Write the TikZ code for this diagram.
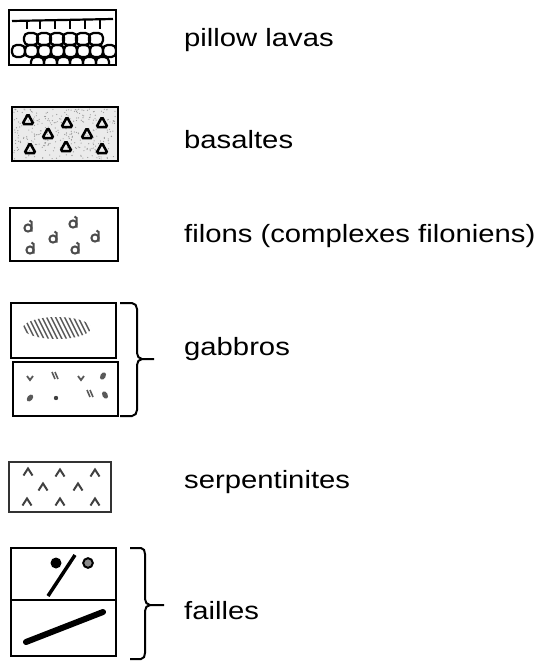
\documentclass[tikz,border=0pt]{standalone}
\usepackage{fontspec}
\setmainfont{Liberation Sans}[FakeStretch=1.17]

\begin{document}
\begin{tikzpicture}[x=1pt,y=-1pt,
	legbox/.style={draw,line width=2.4pt},
	thinbox/.style={draw,line width=1.6pt,black!80},
	legtext/.style={anchor=base west,inner sep=0pt,font=\fontsize{25}{30}\selectfont},
	bracket/.style={line width=2pt},
	pillow/.style={line width=2.2pt,rounded corners=4.5pt}]
	
	\useasboundingbox (0,0) rectangle (539,661);
	
	%pillow lavas
	\begin{scope}
	\clip (10,11) rectangle (115,64);
	\draw[line width=2.2pt] (12,21) -- (113,19);
	\foreach \x in {27,40,55,70,85,100} \draw[line width=2.2pt] (\x,20) -- (\x,29);
	\foreach \x in {24,37,50,63,76,89} \draw[pillow] (\x,45) rectangle ++(14,-12);
	\foreach \x in {12,25,38,51,64,77,90,103} \draw[pillow] (\x,57) rectangle ++(13,-12);
	\foreach \x in {31,44,57,70,83,96} \draw[pillow] (\x,69) rectangle ++(13,-12);
	\end{scope}
	\draw[legbox,line width=2.8pt] (9,10) rectangle (116,65);
	
	%basaltes
	\fill[black!8] (12,107) rectangle (118,161);
	\pgfmathsetseed{11}
	\foreach \i in {1,...,320}{
		\pgfmathsetmacro\dx{14+rnd*102}
		\pgfmathsetmacro\dy{109+rnd*50}
		\fill[black!40] (\dx,\dy) circle (0.6);}
	\foreach \x/\y in {28/119,67/122,102/122,48/133,87/133,30/148,66/146,102/148}
		\draw[line width=2.5pt,rounded corners=1.5pt] (\x,\y-5) -- ++(5.5,10) -- ++(-11,0) -- cycle;
	\draw[legbox] (12,107) rectangle (118,161);
	
	%filons
	\foreach \x/\y in {28/228,73/224,53/239,95/238,30/250,75/250}{
		\draw[line width=2pt,black!70] (\x,\y) circle (3.6);
		\draw[line width=2pt,black!70] (\x+3.6,\y+3.5) -- (\x+3.6,\y-6) -- (\x+1.5,\y-7.5);}
	\draw[legbox] (10,208) rectangle (118,261);
	
	%gabbros
	\begin{scope}
	\clip (57,328) ellipse [x radius=34,y radius=11];
	\foreach \x in {0,4.5,...,108} \draw[line width=1.4pt,black!65] (\x,314) -- (\x+14,342);
	\end{scope}
	\draw[legbox] (11,303) rectangle (116,358);
	
	\foreach \x/\y in {30/378,81/378}
		\draw[line width=1.8pt,black!65] (\x-3,\y-2) -- (\x,\y+2) -- (\x+3,\y-2);
	\foreach \x/\y in {55/376,90/394}{
		\draw[line width=1.6pt,black!65] (\x-3,\y-4) -- (\x,\y+3);
		\draw[line width=1.6pt,black!65] (\x,\y-4) -- (\x+3,\y+3);}
	\foreach \x/\y/\a in {103/376/60,30/398/50,105/395/-60}
		\fill[black!65,rotate around={\a:(\x,\y)}] (\x,\y) ellipse [x radius=4,y radius=2.6];
	\fill[black!75] (56,398) circle (2.2);
	\draw[legbox] (13,362) rectangle (118,416);
	
	\draw[bracket] (120,303) -- (132,303) to[out=0,in=90] (137,309) -- (137,353) to[out=-90,in=180] (142,359) -- (154,359);
	\draw[bracket] (120,416) -- (132,416) to[out=0,in=-90] (137,410) -- (137,365) to[out=90,in=180] (142,359);
	
	%serpentinites
	\foreach \x/\y in {28/472,60/473,95/473,43/487,78/487,27/502,60/502,95/502}
		\draw[line width=2pt,black!75] (\x-4.5,\y+3.5) -- (\x,\y-3.5) -- (\x+4.5,\y+3.5);
	\draw[thinbox] (9,462) rectangle (111,512);
	
	%failles
	\fill (56,563) circle (5.5);
	\draw[line width=2pt,fill=black!45] (88,563) circle (4.8);
	\draw[line width=3.5pt] (75,555) -- (48,596);
	\draw[legbox] (11,548) rectangle (116,600);
	\draw[line width=6pt,line cap=round] (26,642) -- (103,612);
	\draw[legbox] (11,600) rectangle (116,656);
	
	\draw[bracket] (130,548) -- (141,548) to[out=0,in=90] (145,554) -- (145,599) to[out=-90,in=180] (150,605) -- (164,605);
	\draw[bracket] (130,659) -- (141,659) to[out=0,in=-90] (145,653) -- (145,611) to[out=90,in=180] (150,605);
	
	%labels
	\node[legtext] (pillowlab) at (184,47) {pillow lavas};
	\node[legtext] (basaltlab) at (184,148) {basaltes};
	\node[legtext] (filonlab) at (184,242) {filons (complexes filoniens)};
	\node[legtext] (gabbrolab) at (184,355) {gabbros};
	\node[legtext] (serplab) at (184,488) {serpentinites};
	\node[legtext] (faillelab) at (184,619) {failles};
	
\end{tikzpicture}
\end{document}
